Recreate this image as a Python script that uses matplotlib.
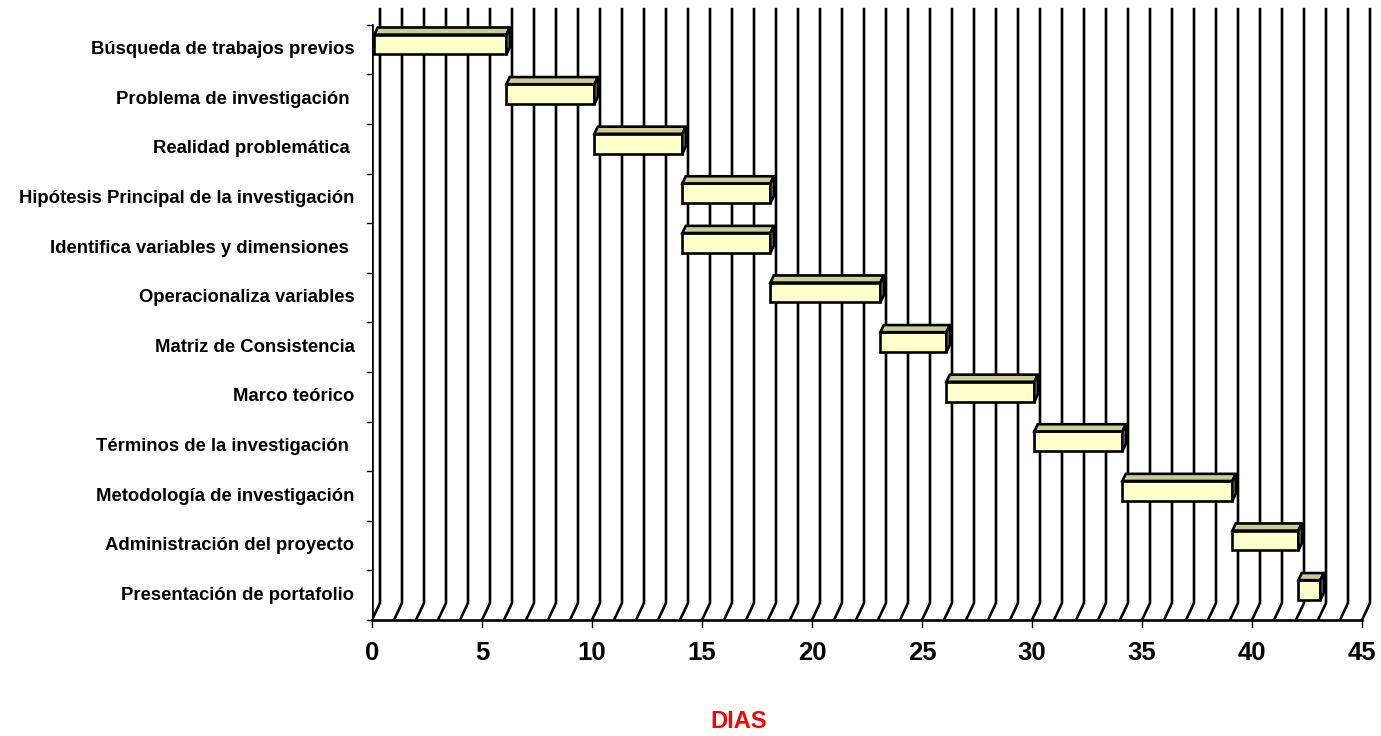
import numpy as np
import matplotlib.pyplot as plt
from matplotlib.patches import Polygon

plt.rcParams['font.family'] = ['Liberation Sans', 'DejaVu Sans']

# Tasks (top to bottom), start day and end day
tasks = [
    'Búsqueda de trabajos previos',
    'Problema de investigación ',
    'Realidad problemática ',
    'Hipótesis Principal de la investigación',
    'Identifica variables y dimensiones ',
    'Operacionaliza variables',
    'Matriz de Consistencia',
    'Marco teórico',
    'Términos de la investigación ',
    'Metodología de investigación',
    'Administración del proyecto',
    'Presentación de portafolio',
]
start = [0, 6, 10, 14, 14, 18, 23, 26, 30, 34, 39, 42]
end = [6, 10, 14, 18, 18, 23, 26, 30, 34, 39, 42, 43]

xmax = 45
n = len(tasks)

fig = plt.figure(figsize=(13.81, 7.36), dpi=100)
ax = fig.add_axes([372 / 1381, 116 / 736, 1001 / 1381, 615 / 736])
ax.set_xlim(0, 45.5)
ax.set_ylim(0, 12.4)
ax.axis('off')

# depth vector of the 3D box in data units
ddx, ddy = 8 / 22, 17 / 49.6
lw = 1.9

# back wall vertical gridlines and floor slants
for k in range(xmax + 1):
    ax.plot([k, k + ddx, k + ddx], [0, ddy, n + ddy], color='black', lw=lw,
            zorder=1, solid_capstyle='butt')
# left wall front edge and floor front edge
ax.plot([0, 0], [0, n], color='black', lw=lw, zorder=1)
ax.plot([0, xmax], [0, 0], color='black', lw=lw, zorder=1, clip_on=False)

# y ticks (category boundaries)
for j in range(n + 1):
    ax.plot([-0.23, 0], [j, j], color='black', lw=1.0, zorder=1, clip_on=False)
# x ticks
for k in range(0, xmax + 1, 5):
    ax.plot([k, k], [0, -0.15], color='black', lw=1.0, zorder=1, clip_on=False)
    ax.text(k, -0.42, str(k), ha='center', va='top', fontsize=18.5,
            fontweight='bold')

# category labels
for i, t in enumerate(tasks):
    c = n - i - 0.5
    ax.text(-0.8, c, t, ha='right', va='center', fontsize=13.3,
            fontweight='bold')

# 3D bars
f0, f1 = 0.3, 0.72
h = 0.2
for i in range(n):
    c = n - i - 0.5
    x0 = start[i] + f0 * ddx
    x1 = end[i] + f0 * ddx
    yb = c + f0 * ddy - h
    yt = c + f0 * ddy + h
    ox, oy = (f1 - f0) * ddx, (f1 - f0) * ddy
    front = Polygon([(x0, yb), (x1, yb), (x1, yt), (x0, yt)], closed=True,
                    facecolor='#FFFFCC', edgecolor='black', lw=lw, zorder=3)
    top = Polygon([(x0, yt), (x1, yt), (x1 + ox, yt + oy), (x0 + ox, yt + oy)],
                  closed=True, facecolor='#CCCC99', edgecolor='black', lw=lw,
                  zorder=3)
    side = Polygon([(x1, yb), (x1 + ox, yb + oy), (x1 + ox, yt + oy), (x1, yt)],
                   closed=True, facecolor='#BDBD8E', edgecolor='black', lw=lw,
                   zorder=3)
    for p in (front, top, side):
        ax.add_patch(p)

fig.text(739 / 1381, 1 - 722 / 736, 'DIAS', color='red', fontsize=17,
         fontweight='bold', ha='center', va='center')

fig.savefig('out.png', dpi=100)
